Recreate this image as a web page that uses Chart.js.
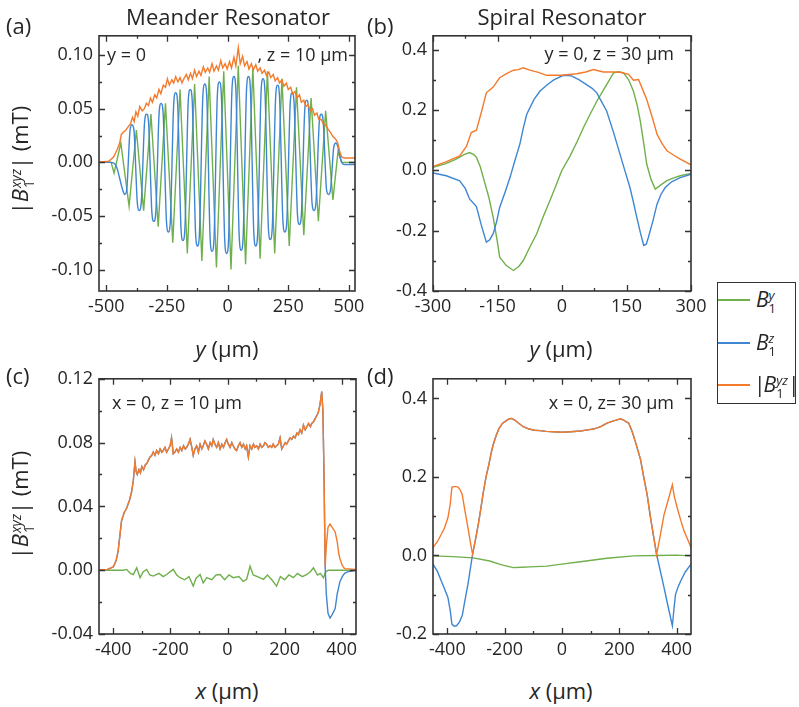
<!DOCTYPE html>
<html>
<head>
<meta charset="utf-8">
<script src="https://cdn.jsdelivr.net/npm/chart.js@4/dist/chart.umd.min.js"></script>
<style>
  body { margin: 0; background: #fff; width: 799px; height: 707px; position: relative; overflow: hidden;
         font-family: "Open Sans", sans-serif; color: #262626; }
  canvas { position: absolute; }
  .t { position: absolute; white-space: nowrap; line-height: 1; }
  .c { transform: translate(-50%, -50%); }
  .l { transform: translate(0, -50%); }
  .r { transform: translate(-100%, -50%); }
  .big { font-size: 22px; }
  .note { font-size: 18px; }
  .rot { transform: translate(-50%, -50%) rotate(-90deg); }
  .st { display: inline-flex; flex-direction: column; font-size: 0.62em; line-height: 1; vertical-align: 0.55em; margin-left: 1px; }
  .legend { position: absolute; left: 717px; top: 282px; width: 77px; height: 120px; border: 1.5px solid #333; }
  .legend .row { position: absolute; left: 0; height: 2px; width: 32px; }
  .legend .lab { position: absolute; left: 36px; font-size: 21px; line-height: 1; white-space: nowrap; transform: translateY(-50%); }
  .legend .lab .st { margin-left: 0; }
</style>
</head>
<body>
<canvas id="pa" width="351" height="307" style="left:29px;top:19px"></canvas>
<canvas id="pb" width="353" height="307" style="left:363px;top:19px"></canvas>
<canvas id="pc" width="352" height="307" style="left:29px;top:362px"></canvas>
<canvas id="pd" width="353" height="307" style="left:363px;top:362px"></canvas>

<div class="t c big" style="left:228px;top:16px">Meander Resonator</div>
<div class="t c big" style="left:562px;top:16px">Spiral Resonator</div>
<div class="t l big" style="left:6px;top:25px">(a)</div>
<div class="t l big" style="left:367px;top:25px">(b)</div>
<div class="t l big" style="left:6px;top:375px">(c)</div>
<div class="t l big" style="left:367px;top:375px">(d)</div>

<div class="t c big" style="left:227px;top:348px"><i>y</i> (μm)</div>
<div class="t c big" style="left:561px;top:348px"><i>y</i> (μm)</div>
<div class="t c big" style="left:227px;top:690px"><i>x</i> (μm)</div>
<div class="t c big" style="left:561px;top:690px"><i>x</i> (μm)</div>

<div class="t rot big" style="left:22px;top:160px">|<i>B</i><span class="st"><i>xyz</i><span>1</span></span>| (mT)</div>
<div class="t rot big" style="left:22px;top:505px">|<i>B</i><span class="st"><i>xyz</i><span>1</span></span>| (mT)</div>

<div class="t l note" style="left:107px;top:54px">y = 0</div>
<div class="t r note" style="left:348px;top:54px">, z = 10 μm</div>
<div class="t r note" style="left:674px;top:53px">y = 0, z = 30 μm</div>
<div class="t l note" style="left:112px;top:402px">x = 0, z = 10 μm</div>
<div class="t r note" style="left:674px;top:402px">x = 0, z= 30 μm</div>

<div class="legend">
  <div class="row" style="top:16px;background:#6fb04c"></div>
  <div class="lab" style="top:19px;left:38px"><i>B</i><span class="st"><i>y</i><span>1</span></span></div>
  <div class="row" style="top:59px;background:#3f86d2"></div>
  <div class="lab" style="top:62px;left:38px"><i>B</i><span class="st"><i>z</i><span>1</span></span></div>
  <div class="row" style="top:101px;background:#f47a2c"></div>
  <div class="lab" style="top:104px">|<i style="margin-left:-2px">B</i><span class="st"><i>yz</i><span>1</span></span>|</div>
</div>

<script>
// ---- tick values and labels ----
const aXTicks = [-500, -250, 0, 250, 500];
const aXLabels = ['-500', '-250', '0', '250', '500'];
const aYTicks = [-0.10, -0.05, 0, 0.05, 0.10];
const aYLabels = ['-0.10', '-0.05', '0.00', '0.05', '0.10'];
const bXTicks = [-300, -150, 0, 150, 300];
const bXLabels = ['-300', '-150', '0', '150', '300'];
const bYTicks = [-0.4, -0.2, 0, 0.2, 0.4];
const bYLabels = ['-0.4', '-0.2', '0.0', '0.2', '0.4'];
const cXTicks = [-400, -200, 0, 200, 400];
const cXLabels = ['-400', '-200', '0', '200', '400'];
const cYTicks = [-0.04, 0, 0.04, 0.08, 0.12];
const cYLabels = ['-0.04', '0.00', '0.04', '0.08', '0.12'];
const dYTicks = [-0.2, 0, 0.2, 0.4];
const dYLabels = ['-0.2', '0.0', '0.2', '0.4'];

// ---- (a) meander, y scan ----
const aBy = [[-530,0],[-480,0],[-468,-0.010],[-440,0.018],
  [-406,-0.041],[-376,0.030],[-346,-0.045],[-316,0.045],[-286,-0.060],[-256,0.055],[-226,-0.075],[-196,0.068],
  [-166,-0.085],[-136,0.073],[-106,-0.092],[-76,0.080],[-46,-0.098],[-16,0.085],[14,-0.100],[44,0.090],
  [74,-0.095],[104,0.088],[134,-0.090],[164,0.085],[194,-0.085],[224,0.078],[254,-0.078],[284,0.070],
  [314,-0.068],[344,0.060],[374,-0.055],[404,0.048],[434,-0.035],[455,0.010],[470,0],[525,0]];
const aBz = [[-530,0],[-480,0],[-460,-0.003],
  [-432,-0.026],[-424,-0.030],[-416,-0.026],[-402,0.030],[-394,0.035],[-386,0.030],
  [-372,-0.038],[-364,-0.045],[-356,-0.038],[-342,0.038],[-334,0.045],[-326,0.038],
  [-312,-0.047],[-304,-0.055],[-296,-0.047],[-282,0.047],[-274,0.055],[-266,0.047],
  [-252,-0.055],[-244,-0.065],[-236,-0.055],[-222,0.055],[-214,0.065],[-206,0.055],
  [-192,-0.062],[-184,-0.073],[-176,-0.062],[-162,0.058],[-154,0.068],[-146,0.058],
  [-132,-0.066],[-124,-0.078],[-116,-0.066],[-102,0.062],[-94,0.073],[-86,0.062],
  [-72,-0.071],[-64,-0.083],[-56,-0.071],[-42,0.064],[-34,0.075],[-26,0.064],
  [-12,-0.072],[-4,-0.085],[4,-0.072],[18,0.068],[26,0.080],[34,0.068],
  [48,-0.070],[56,-0.082],[64,-0.070],[78,0.068],[86,0.080],[94,0.068],
  [108,-0.066],[116,-0.078],[124,-0.066],[138,0.066],[146,0.078],[154,0.066],
  [168,-0.061],[176,-0.072],[184,-0.061],[198,0.061],[206,0.072],[214,0.061],
  [228,-0.055],[236,-0.065],[244,-0.055],[258,0.055],[266,0.065],[274,0.055],
  [288,-0.049],[296,-0.058],[304,-0.049],[318,0.049],[326,0.058],[334,0.049],
  [348,-0.038],[356,-0.045],[364,-0.038],[378,0.038],[386,0.045],[394,0.038],
  [408,-0.026],[416,-0.030],[424,-0.026],[438,0.015],[446,0.018],[454,0.015],
  [470,0],[480,-0.002],[525,-0.002]];
const aAbs = [[-530,0.000],[-490,0.001],[-470,0.005],[-455,0.012],[-445,0.018],[-438,0.026],[-430,0.028],[-420,0.030],
  [-410,0.033],[-400,0.036],[-392,0.042],[-385,0.038],[-378,0.047],[-370,0.043],[-362,0.052],[-352,0.048],
  [-343,0.050],[-335,0.055],[-326,0.053],[-318,0.060],[-310,0.056],[-300,0.063],[-292,0.060],[-283,0.068],
  [-275,0.064],[-265,0.072],[-256,0.070],[-248,0.078],[-240,0.072],[-230,0.077],[-222,0.074],[-214,0.080],
  [-205,0.075],[-196,0.079],[-188,0.074],[-180,0.078],[-170,0.082],[-162,0.077],[-153,0.083],[-145,0.078],
  [-136,0.086],[-128,0.080],[-118,0.085],[-110,0.081],[-100,0.089],[-92,0.084],[-82,0.088],[-74,0.084],
  [-64,0.092],[-56,0.085],[-46,0.090],[-38,0.086],[-28,0.095],[-20,0.088],[-10,0.092],[-2,0.087],
  [8,0.094],[16,0.088],[26,0.098],[34,0.090],[44,0.107],[52,0.092],[62,0.099],[70,0.090],
  [80,0.094],[88,0.087],[98,0.092],[106,0.086],[116,0.091],[124,0.085],[134,0.088],[142,0.083],
  [152,0.086],[160,0.081],[170,0.084],[178,0.079],[188,0.082],[196,0.076],[206,0.079],[214,0.074],
  [224,0.077],[232,0.071],[242,0.074],[250,0.068],[260,0.070],[268,0.064],[278,0.066],[286,0.060],
  [296,0.063],[304,0.056],[314,0.058],[322,0.052],[332,0.054],[340,0.048],[350,0.050],[358,0.044],
  [368,0.046],[376,0.040],[386,0.040],[394,0.036],[404,0.035],[414,0.031],[424,0.028],[434,0.024],
  [444,0.022],[454,0.018],[462,0.010],[470,0.005],[480,0.004],[525,0.004]];

// ---- (b) spiral, y scan ----
const bBy = [[-300,0.010],[-270,0.022],[-246,0.037],[-228,0.052],[-215,0.059],[-205,0.052],[-199,0.043],
  [-190,0.012],[-183,-0.024],[-170,-0.090],[-160,-0.156],[-150,-0.240],[-145,-0.288],[-130,-0.315],
  [-113,-0.332],[-100,-0.318],[-90,-0.299],[-75,-0.255],[-59,-0.211],[-44,-0.155],[-28,-0.100],
  [-14,-0.050],[-1,-0.002],[19,0.048],[35,0.095],[50,0.142],[65,0.185],[81,0.229],[100,0.275],
  [120,0.323],[132,0.327],[143,0.323],[155,0.300],[166,0.263],[175,0.215],[182,0.164],[190,0.090],
  [197,0.021],[207,-0.030],[217,-0.062],[230,-0.048],[244,-0.034],[260,-0.025],[275,-0.018],[300,-0.010]];
const bBz = [[-300,-0.009],[-269,-0.018],[-238,-0.035],[-225,-0.060],[-215,-0.095],[-199,-0.120],
  [-188,-0.180],[-176,-0.238],[-168,-0.230],[-160,-0.210],[-152,-0.170],[-145,-0.123],[-133,-0.075],
  [-121,-0.024],[-110,0.030],[-98,0.087],[-90,0.140],[-82,0.186],[-65,0.235],[-51,0.263],[-35,0.283],
  [-20,0.299],[3,0.315],[22,0.313],[40,0.300],[57,0.284],[70,0.272],[81,0.257],[92,0.228],[104,0.196],
  [120,0.125],[135,0.053],[146,0.000],[158,-0.057],[166,-0.105],[174,-0.156],[182,-0.205],[190,-0.249],
  [196,-0.245],[201,-0.222],[211,-0.170],[221,-0.112],[230,-0.080],[240,-0.057],[255,-0.038],
  [275,-0.024],[300,-0.013]];
const bAbs = [[-300,0.013],[-270,0.028],[-238,0.048],[-222,0.080],[-211,0.125],[-199,0.133],[-188,0.190],
  [-176,0.257],[-160,0.276],[-145,0.307],[-130,0.320],[-113,0.332],[-102,0.334],[-90,0.340],[-75,0.332],
  [-55,0.325],[-36,0.315],[-1,0.315],[34,0.320],[55,0.326],[73,0.334],[96,0.326],[120,0.326],[135,0.325],
  [155,0.318],[166,0.299],[178,0.301],[187,0.270],[197,0.235],[210,0.175],[221,0.120],[232,0.090],
  [244,0.065],[260,0.050],[275,0.037],[300,0.018]];

// ---- (c) meander, x scan (|B| and Bz coincide on the plateau) ----
const cPlateau = [[-450,0],[-420,0.0005],[-400,0.002],[-390,0.006],[-383,0.012],[-378,0.020],[-371,0.031],
  [-362,0.036],[-353,0.039],[-343,0.044],[-336,0.049],[-330,0.056],[-324,0.068],[-320,0.062],[-316,0.060],
  [-310,0.063],[-305,0.061],[-300,0.065],[-294,0.063],[-288,0.066],[-282,0.067],[-277,0.069],[-271,0.071],
  [-265,0.072],[-260,0.074],[-254,0.072],[-248,0.075],[-242,0.073],[-236,0.076],[-230,0.074],[-225,0.075],
  [-219,0.077],[-213,0.074],[-207,0.076],[-201,0.078],[-196,0.083],[-190,0.073],[-184,0.074],[-178,0.076],
  [-172,0.074],[-166,0.077],[-160,0.075],[-154,0.078],[-148,0.076],[-143,0.077],[-137,0.079],[-131,0.082],
  [-125,0.077],[-120,0.072],[-114,0.076],[-108,0.078],[-102,0.074],[-96,0.079],[-90,0.076],[-85,0.078],
  [-79,0.081],[-73,0.079],[-67,0.076],[-61,0.080],[-55,0.078],[-50,0.082],[-44,0.079],[-38,0.077],
  [-32,0.080],[-26,0.076],[-20,0.079],[-14,0.077],[-8,0.080],[-3,0.082],[3,0.079],[9,0.077],[15,0.080],
  [20,0.078],[26,0.076],[32,0.075],[38,0.078],[44,0.080],[50,0.077],[56,0.079],[62,0.076],[67,0.078],
  [73,0.071],[79,0.078],[85,0.076],[91,0.079],[96,0.077],[102,0.078],[108,0.076],[114,0.079],[120,0.077],
  [126,0.078],[131,0.080],[137,0.079],[143,0.077],[149,0.078],[155,0.077],[160,0.079],[166,0.077],
  [172,0.078],[178,0.079],[184,0.083],[190,0.076],[196,0.078],[202,0.080],[207,0.079],[213,0.081],
  [219,0.083],[225,0.082],[231,0.084],[237,0.083],[243,0.086],[248,0.085],[254,0.088],[260,0.086],
  [266,0.091],[272,0.088],[278,0.090],[284,0.092],[290,0.090],[295,0.092],[301,0.093],[307,0.095],
  [313,0.097],[318,0.099],[324,0.104],[330,0.112],[334,0.100],[338,0.060],[342,0.002]];
const cAbsTail = [[346,0.015],[352,0.027],[359,0.029],[366,0.027],[377,0.024],[384,0.018],[390,0.010],
  [394,0.007],[402,0.003],[410,0.001],[450,0.0005]];
const cBzTail = [[346,-0.015],[352,-0.027],[359,-0.030],[366,-0.028],[377,-0.024],[384,-0.015],
  [394,-0.007],[402,-0.004],[410,-0.002],[420,-0.001],[450,0]];
const cBy = [[-450,0],[-365,0],[-353,0.0005],[-340,-0.002],[-330,-0.0027],[-318,0.0015],[-306,-0.0047],
  [-295,-0.001],[-283,0.0005],[-272,-0.003],[-260,-0.0037],[-240,-0.002],[-225,-0.004],[-213,-0.0027],
  [-190,0.0005],[-178,-0.003],[-166,-0.0047],[-150,-0.006],[-135,-0.004],[-120,-0.010],[-110,-0.005],
  [-96,-0.0027],[-85,-0.008],[-73,-0.0047],[-55,-0.006],[-40,-0.003],[-26,-0.0027],[-10,-0.006],
  [5,-0.003],[20,-0.0047],[40,-0.004],[55,-0.007],[67,-0.0057],[79,0.0025],[90,-0.003],[105,-0.004],
  [126,-0.0057],[140,-0.003],[155,-0.006],[172,-0.010],[185,-0.004],[200,-0.006],[215,-0.003],
  [231,-0.0047],[245,-0.002],[262,-0.004],[278,-0.0027],[290,-0.001],[301,0.0015],[315,-0.003],
  [325,-0.002],[336,-0.0047],[344,-0.001],[353,0],[450,0]];

// ---- (d) spiral, x scan (|B| and Bz coincide on the dome) ----
const dDome = [[-312,0.003],[-302,0.040],[-292,0.079],[-283,0.120],[-275,0.159],[-265,0.200],[-255,0.232],
  [-245,0.268],[-240,0.282],[-230,0.305],[-220,0.323],[-207,0.337],[-195,0.343],[-185,0.348],[-176,0.349],
  [-165,0.345],[-150,0.336],[-135,0.328],[-115,0.322],[-95,0.319],[-77,0.318],[-55,0.316],[-30,0.315],
  [-1,0.314],[30,0.315],[64,0.317],[90,0.320],[110,0.322],[135,0.328],[157,0.337],[180,0.343],[195,0.346],
  [204,0.348],[215,0.345],[225,0.340],[233,0.337],[245,0.315],[258,0.285],[274,0.244],[285,0.200],
  [297,0.155],[308,0.100],[318,0.055],[330,0.003]];
const dAbsLeft = [[-450,0.020],[-435,0.035],[-421,0.054],[-410,0.070],[-398,0.096],[-390,0.130],[-384,0.174],
  [-372,0.176],[-363,0.174],[-356,0.168],[-348,0.155],[-340,0.120],[-328,0.070],[-320,0.035]];
const dAbsRight = [[340,0.040],[356,0.104],[370,0.140],[385,0.180],[392,0.150],[402,0.121],[414,0.090],
  [426,0.062],[440,0.038],[450,0.020]];
const dBzLeft = [[-450,-0.022],[-435,-0.040],[-421,-0.065],[-410,-0.085],[-398,-0.107],[-390,-0.140],
  [-384,-0.175],[-376,-0.180],[-368,-0.179],[-358,-0.170],[-348,-0.153],[-340,-0.120],[-328,-0.073],[-320,-0.035]];
const dBzRight = [[340,-0.030],[356,-0.082],[370,-0.130],[385,-0.179],[390,-0.140],[396,-0.099],[405,-0.080],
  [414,-0.065],[430,-0.042],[450,-0.022]];
const dBy = [[-450,-0.001],[-380,-0.003],[-310,-0.006],[-252,-0.014],[-210,-0.024],[-170,-0.031],
  [-140,-0.030],[-112,-0.029],[-53,-0.027],[-1,-0.022],[64,-0.016],[157,-0.007],[250,-0.001],
  [332,0.000],[400,0.001],[450,-0.001]];

const GREEN = '#6fb04c', BLUE = '#3f86d2', ORANGE = '#f47a2c';
const pts = a => a.map(([x, y]) => ({x, y}));

const frame = {
  id: 'frame',
  afterDraw(chart) {
    const {ctx, chartArea: a, scales: {x, y}} = chart;
    const xm = x.ticks.map(t => t.value), ym = y.ticks.map(t => t.value);
    const mids = v => v.slice(1).map((t, i) => (t + v[i]) / 2);
    ctx.save();
    ctx.strokeStyle = '#333';
    ctx.lineWidth = 1.3;
    ctx.beginPath();
    for (const [vals, len] of [[xm, 6], [mids(xm), 3]]) {
      for (const v of vals) {
        const px = Math.round(x.getPixelForValue(v)) + 0.5;
        ctx.moveTo(px, a.bottom); ctx.lineTo(px, a.bottom - len);
        ctx.moveTo(px, a.top); ctx.lineTo(px, a.top + len);
      }
    }
    for (const [vals, len] of [[ym, 6], [mids(ym), 3]]) {
      for (const v of vals) {
        const py = Math.round(y.getPixelForValue(v)) + 0.5;
        ctx.moveTo(a.left, py); ctx.lineTo(a.left + len, py);
        ctx.moveTo(a.right, py); ctx.lineTo(a.right - len, py);
      }
    }
    ctx.stroke();
    ctx.lineWidth = 1.6;
    ctx.strokeRect(a.left, a.top, a.right - a.left, a.bottom - a.top);
    ctx.restore();
  }
};

function line(data, color, smooth) {
  return {data: pts(data), borderColor: color, borderWidth: 1.4, pointRadius: 0,
          cubicInterpolationMode: smooth ? 'monotone' : 'default', tension: 0};
}

function panel(id, sets, xr, xt, xl, yr, yt, yl) {
  const tickFont = {family: 'Open Sans', size: 18};
  new Chart(document.getElementById(id), {
    type: 'line',
    data: {datasets: sets},
    options: {
      responsive: false,
      animation: false,
      parsing: false,
      layout: {padding: {left: 0, top: 15, right: 25, bottom: 0}},
      plugins: {legend: {display: false}, tooltip: {enabled: false}},
      scales: {
        x: {type: 'linear', min: xr[0], max: xr[1],
            grid: {display: false, drawTicks: false}, border: {display: false},
            afterBuildTicks: s => { s.ticks = xt.map(v => ({value: v})); },
            afterFit: s => { s.height = 35; },
            ticks: {font: tickFont, color: '#262626', padding: 5, maxRotation: 0, autoSkip: false,
                    callback: (v, i) => xl[i]}},
        y: {type: 'linear', min: yr[0], max: yr[1],
            grid: {display: false, drawTicks: false}, border: {display: false},
            afterBuildTicks: s => { s.ticks = yt.map(v => ({value: v})); },
            afterFit: s => { s.width = 70; },
            ticks: {font: tickFont, color: '#262626', padding: 6, autoSkip: false,
                    callback: (v, i) => yl[i]}}
      }
    },
    plugins: [frame]
  });
}

panel('pa', [line(aAbs, ORANGE), line(aBz, BLUE, true), line(aBy, GREEN)],
  [-530, 525], aXTicks, aXLabels, [-0.12, 0.118], aYTicks, aYLabels);
panel('pb', [line(bAbs, ORANGE), line(bBz, BLUE), line(bBy, GREEN)],
  [-300, 300], bXTicks, bXLabels, [-0.4, 0.446], bYTicks, bYLabels);
panel('pc', [line(cPlateau.concat(cAbsTail), ORANGE), line(cPlateau.concat(cBzTail), BLUE), line(cBy, GREEN)],
  [-450, 450], cXTicks, cXLabels, [-0.04, 0.12], cYTicks, cYLabels);
panel('pd', [line(dAbsLeft.concat(dDome, dAbsRight), ORANGE), line(dBzLeft.concat(dDome, dBzRight), BLUE), line(dBy, GREEN)],
  [-450, 450], cXTicks, cXLabels, [-0.2, 0.45], dYTicks, dYLabels);
</script>
</body>
</html>
